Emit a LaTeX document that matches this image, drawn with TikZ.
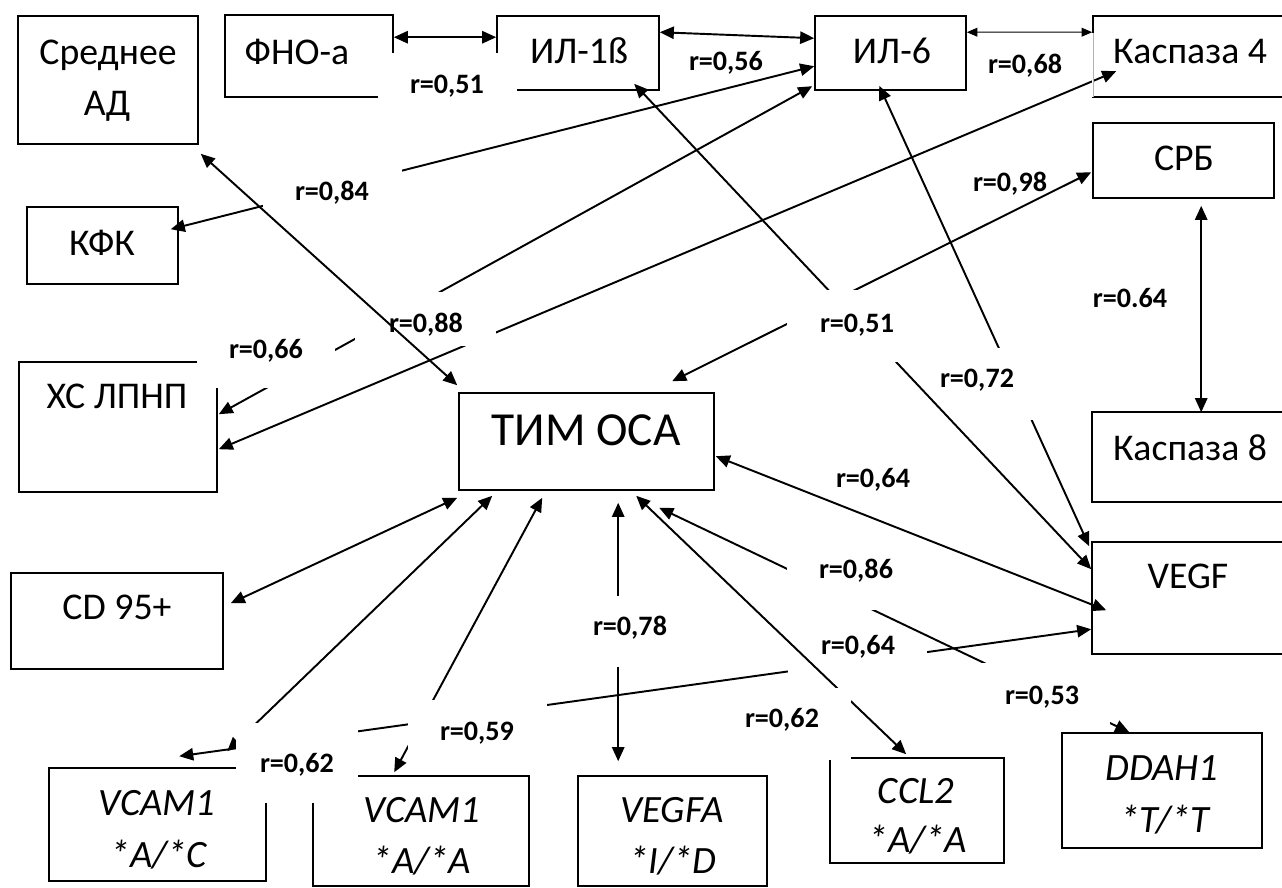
\documentclass[tikz,border=0pt]{standalone}
\usepackage{fontspec}
\setmainfont{Carlito}
\usetikzlibrary{arrows.meta,calc,fit}
\begin{document}
\begin{tikzpicture}[x=0.02cm,y=-0.02cm,
  box/.style={draw, line width=0.9pt, inner sep=0pt},
  btxt/.style={font=\fontsize{21.5}{26}\selectfont, anchor=base, inner sep=0pt},
  itxt/.style={font=\fontsize{22}{26}\selectfont\itshape, anchor=base, inner sep=0pt},
  rlab/.style={font=\fontsize{16}{19}\selectfont\bfseries, anchor=base, inner sep=0pt},
  con/.style={line width=1.1pt, arrows={Triangle[length=8pt,width=7pt]-Triangle[length=8pt,width=7pt]}},
  thincon/.style={line width=0.6pt, arrows={Triangle[length=6pt,width=5pt]-Triangle[length=6pt,width=5pt]}},
  mask/.style={fill=white}
]
\useasboundingbox (0,0) rectangle (1282,887);
% boxes
\node[box, fit={(18,16) (198,144)}] (sad) {};
\node[box, fit={(225,15) (393,97)}] (fno) {};
\node[box, fit={(497,16) (659,90)}] (il1) {};
\node[box, fit={(815,16) (966,90)}] (il6) {};
\node[box, fit={(1093,16) (1300,97)}] (k4) {};
\node[box, fit={(1093,123) (1274,198)}] (srb) {};
\node[box, fit={(27,207) (178,284)}] (kfk) {};
\node[box, fit={(19,362) (217,492)}] (xs) {};
\node[box, fit={(11,573) (223,669)}] (cd) {};
\node[box, fit={(459,393) (714,490)}] (tim) {};
\node[box, fit={(1092,412) (1300,502)}] (k8) {};
\node[box, fit={(1092,542) (1300,654)}] (vegf) {};
\node[box, fit={(49,768) (266,881)}] (vc1) {};
\node[box, fit={(313,776) (529,886)}] (vc2) {};
\node[box, fit={(578,776) (767,886)}] (vegfa) {};
\node[box, fit={(830,758) (1004,863)}] (ccl2) {};
\node[box, fit={(1062,733) (1262,848)}] (ddah) {};
% connectors (cut by labels)
\draw[con] ($(fno.north east)+(0,23)$) -- ($(il1.north west)+(0,22)$);
\draw[con] ($(il1.north east)+(0,17)$) -- ($(il6.north west)+(0,23)$);
\draw[thincon] ($(il6.north east)+(0,17)$) -- ($(k4.north west)+(0,17)$);
\draw[con] ($(kfk.north east)+(-8,23)$) -- ($(il6.north west)+(0,51)$);
\draw[con] ($(xs.north east)+(1,53)$) -- ($(il6.north west)+(-2,71)$);
\draw[con] ($(xs.north east)+(1,88)$) -- ($(k4.north west)+(24,56)$);
\draw[con] ($(tim.north west)+(214,-11)$) -- ($(srb.north west)+(-1,50)$);
\draw[con] ($(il6.south west)+(65,-5)$) -- ($(vegf.north west)+(-2,5)$);
\draw[con] ($(srb.south west)+(109,7)$) -- ($(k8.north west)+(110,1)$);
\draw[con] ($(tim.north east)+(1,64)$) -- ($(vegf.north west)+(15,69)$);
\draw[con] ($(il1.south west)+(138,-7)$) -- ($(vegf.north west)+(0,28)$);
\draw[con] ($(tim.south west)+(201,17)$) -- ($(ddah.north west)+(68,0)$);
\draw[con] ($(vegf.north west)+(0,88)$) -- ($(vc1.north west)+(131,-11)$);
\draw[con] ($(tim.south west)+(84,7)$) -- ($(vc2.north west)+(82,-3)$);
\draw[con] ($(tim.south west)+(160,12)$) -- ($(vegfa.north west)+(41,-14)$);
\draw[con] ($(tim.south west)+(34,5)$) -- ($(vc1.north west)+(179,-16)$);
\draw[con] ($(tim.south west)+(-1,7)$) -- ($(cd.north east)+(7,31)$);
% label backgrounds
\fill[mask] (378,53) rectangle (517,119);
\fill[mask] (263,160) rectangle (402,222);
\fill[mask] (197,312) rectangle (335,388);
\fill[mask] (355,292) rectangle (496,346);
\fill[mask] (787,290) rectangle (950,362);
\fill[mask] (955,348) rectangle (1045,420);
\fill[mask] (787,545) rectangle (935,610);
\fill[mask] (788,637) rectangle (927,680);
\fill[mask] (575,596) rectangle (690,667);
\fill[mask] (975,663) rectangle (1110,732);
\fill[mask] (408,700) rectangle (547,762);
\fill[mask] (236,723) rectangle (358,803);
\draw[con] ($(tim.south west)+(178,5)$) -- ($(ccl2.north west)+(77,-3)$);
\fill[mask] (713,688) rectangle (851,760);
\draw[con] ($(sad.south east)+(2,9)$) -- ($(tim.north west)+(-1,-7)$);
% faint left edge of Kaspaza 4
\draw[white, line width=1.4pt] (1093,33) -- (1093,97);
\draw[black!30, line width=0.5pt] (1093,33) -- (1093,97);
% box texts
\node[btxt] (t-sad1) at (108,64) {Среднее};
\node[btxt] (t-sad2) at (107,115) {АД};
\node[btxt] (t-fno) at (297,64) {ФНО-а};
\node[btxt] (t-il1) at (579,63) {ИЛ-1ß};
\node[btxt] (t-il6) at (892,63) {ИЛ-6};
\node[btxt] (t-k4) at (1190,63) {Каспаза 4};
\node[btxt] (t-srb) at (1184,170) {СРБ};
\node[btxt] (t-kfk) at (102,255) {КФК};
\node[btxt] (t-xs) at (117,408) {ХС ЛПНП};
\node[btxt] (t-cd) at (117,619) {CD 95+};
\node[btxt, font=\fontsize{27}{31}\selectfont] (t-tim) at (586,445) {ТИМ ОСА};
\node[btxt] (t-k8) at (1190,460) {Каспаза 8};
\node[btxt] (t-vegf) at (1188,588) {VEGF};
\node[itxt] (t-vc1a) at (157,815) {VCAM1};
\node[itxt] (t-vc1b) at (159,867) {*A/*C};
\node[itxt] (t-vc2a) at (422,822) {VCAM1};
\node[itxt] (t-vc2b) at (422,873) {*A/*A};
\node[itxt] (t-vegfaa) at (672,822) {VEGFA};
\node[itxt] (t-vegfab) at (673,873) {*I/*D};
\node[itxt] (t-ccl2a) at (916,803) {CCL2};
\node[itxt] (t-ccl2b) at (918,852) {*A/*A};
\node[itxt] (t-ddaha) at (1162,780) {DDAH1};
\node[itxt] (t-ddahb) at (1165,832) {*T/*T};
% correlation labels
\node[rlab] (r1) at (447,93) {r=0,51};
\node[rlab] (r2) at (726,70) {r=0,56};
\node[rlab] (r3) at (1025,73) {r=0,68};
\node[rlab] (r4) at (332,200) {r=0,84};
\node[rlab] (r5) at (1010,191) {r=0,98};
\node[rlab] (r6) at (1130,307) {r=0.64};
\node[rlab] (r7) at (266,358) {r=0,66};
\node[rlab] (r8) at (426,332) {r=0,88};
\node[rlab] (r9) at (857,332) {r=0,51};
\node[rlab] (r10) at (977,387) {r=0,72};
\node[rlab] (r11) at (873,487) {r=0,64};
\node[rlab] (r12) at (856,578) {r=0,86};
\node[rlab] (r13) at (858,654) {r=0,64};
\node[rlab] (r14) at (630,635) {r=0,78};
\node[rlab] (r15) at (1042,704) {r=0,53};
\node[rlab] (r16) at (477,740) {r=0,59};
\node[rlab] (r17) at (782,727) {r=0,62};
\node[rlab] (r18) at (297,772) {r=0,62};
\end{tikzpicture}
\end{document}
